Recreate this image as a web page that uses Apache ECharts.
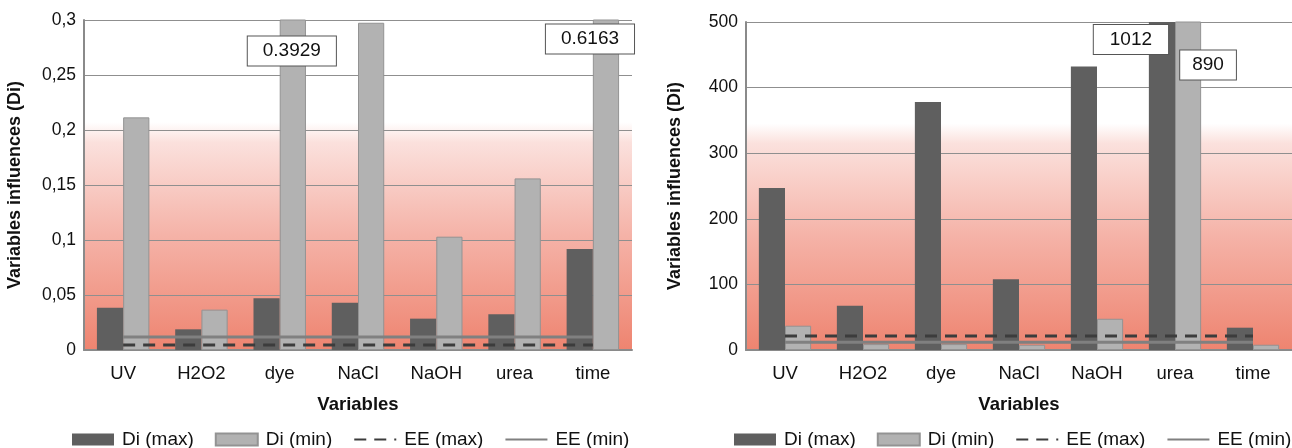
<!DOCTYPE html>
<html><head><meta charset="utf-8">
<script src="https://cdn.jsdelivr.net/npm/echarts@6/dist/echarts.min.js"></script>
<style>html,body{margin:0;padding:0;background:#fff}#c{width:1292px;height:448px}</style>
</head><body><div id="c"></div>
<script>
// ---------- data ----------
const categories = ['UV', 'H2O2', 'dye', 'NaCl', 'NaOH', 'urea', 'time'];
const seriesNames = ['Di (max)', 'Di (min)', 'EE (max)', 'EE (min)'];

const leftDiMax = [0.0385, 0.0188, 0.047, 0.043, 0.0285, 0.0325, 0.0918];
const leftDiMin = [0.2115, 0.0367, 0.3929, 0.2975, 0.103, 0.156, 0.6163];
const leftEEMax = [0.0045, 0.0045, 0.0045, 0.0045, 0.0045, 0.0045, 0.0045];
const leftEEMin = [0.0118, 0.0118, 0.0118, 0.0118, 0.0118, 0.0118, 0.0118];
const leftYTicks = ['0', '0,05', '0,1', '0,15', '0,2', '0,25', '0,3'];

const rightDiMax = [247, 67.5, 378, 108, 432, 1012, 34];
const rightDiMin = [37, 9, 9, 8, 47.6, 890, 8];
const rightEEMax = [21.3, 21.3, 21.3, 21.3, 21.3, 21.3, 21.3];
const rightEEMin = [11.7, 11.7, 11.7, 11.7, 11.7, 11.7, 11.7];
const rightYTicks = ['0', '100', '200', '300', '400', '500'];

// ---------- styles ----------
const FONT = '"Liberation Sans", Arial, sans-serif';
const DARK = '#5f5f5f', LIGHT = '#b2b2b2';
const AXIS = '#8a8a8a', GRID = '#8f8f8f';

// callout label placement for values beyond the axis range (style only)
const leftMaxOff = {};
const leftMinOff = {2: {offset: [-1, 17], pad: [5, 15]}, 6: {offset: [-16, 5], pad: [5, 15]}};
const rightMaxOff = {5: {offset: [-31, 3], pad: [5, 16]}};
const rightMinOff = {5: {offset: [20, 29], pad: [5, 12]}};

function withCallouts(values, offs) {
  return values.map((v, i) => {
    if (!offs[i]) return v;
    return {
      value: v,
      label: {
        show: true, position: 'insideTop', distance: 0, offset: offs[i].offset,
        formatter: p => String(p.value),
        color: '#111', fontSize: 19, fontFamily: FONT,
        backgroundColor: '#fff', borderColor: '#555', borderWidth: 1,
        padding: offs[i].pad, textBorderWidth: 0
      }
    };
  });
}

function bg() {
  return new echarts.graphic.LinearGradient(0, 0, 0, 1, [
    {offset: 0, color: '#ffffff'},
    {offset: 0.31, color: '#ffffff'},
    {offset: 0.37, color: '#fbe1dd'},
    {offset: 0.65, color: '#f5b3a8'},
    {offset: 1, color: '#ee8470'}
  ]);
}

function legend(left) {
  return {
    left: left, top: 430, width: 620, padding: 0,
    itemWidth: 42, itemHeight: 12, itemGap: 21,
    textStyle: {fontSize: 19, fontFamily: FONT, color: '#111', padding: [0, 0, 0, 3]},
    data: [
      {name: seriesNames[0], icon: 'rect'},
      {name: seriesNames[1], icon: 'rect'},
      {name: seriesNames[2], itemStyle: {opacity: 0}},
      {name: seriesNames[3], itemStyle: {opacity: 0}}
    ]
  };
}

function xAxis(idx) {
  return {
    type: 'category', gridIndex: idx, data: categories,
    axisLine: {lineStyle: {color: AXIS, width: 2}},
    axisTick: {show: false},
    axisLabel: {fontSize: 18.5, fontFamily: FONT, color: '#111', margin: 14},
    name: 'Variables', nameLocation: 'middle', nameGap: 45,
    nameTextStyle: {fontSize: 18.5, fontWeight: 'bold', fontFamily: FONT, color: '#111'}
  };
}

function yAxis(idx, max, interval, ticks, gap) {
  return {
    type: 'value', gridIndex: idx, min: 0, max: max, interval: interval,
    axisLine: {show: true, lineStyle: {color: AXIS, width: 2}},
    axisTick: {show: false},
    splitLine: {lineStyle: {color: GRID, width: 1}},
    axisLabel: {fontSize: 17.5, fontFamily: FONT, color: '#111', margin: 8,
      formatter: (v, i) => ticks[i]},
    name: 'Variables influences (Di)', nameLocation: 'middle', nameGap: gap,
    nameTextStyle: {fontSize: 18, fontWeight: 'bold', fontFamily: FONT, color: '#111'}
  };
}

function seriesFor(idx, diMax, diMin, eeMax, eeMin, offMax, offMin) {
  return [
    {name: seriesNames[0], type: 'bar', xAxisIndex: idx, yAxisIndex: idx,
     data: withCallouts(diMax, offMax), barCategoryGap: '33%', barGap: '0%',
     itemStyle: {color: DARK}},
    {name: seriesNames[1], type: 'bar', xAxisIndex: idx, yAxisIndex: idx,
     data: withCallouts(diMin, offMin), barCategoryGap: '33%', barGap: '0%',
     itemStyle: {color: LIGHT, borderColor: '#939393', borderWidth: 1}},
    {name: seriesNames[2], type: 'line', xAxisIndex: idx, yAxisIndex: idx,
     data: eeMax, symbol: 'none', z: 5,
     lineStyle: {color: '#3c3c3c', width: 3, type: [12, 8]},
     itemStyle: {color: '#3c3c3c'}},
    {name: seriesNames[3], type: 'line', xAxisIndex: idx, yAxisIndex: idx,
     data: eeMin, symbol: 'none', z: 5,
     lineStyle: {color: '#808080', width: 3},
     itemStyle: {color: '#808080'}}
  ];
}

const chart = echarts.init(document.getElementById('c'), null, {renderer: 'canvas'});
chart.setOption({
  animation: false,
  backgroundColor: '#fff',
  textStyle: {fontFamily: FONT},
  grid: [
    {left: 84, top: 20, width: 548, height: 330, show: true, backgroundColor: bg(), borderWidth: 0},
    {left: 746, top: 22, width: 549, height: 328, show: true, backgroundColor: bg(), borderWidth: 0}
  ],
  legend: [legend(72), legend(734)],
  xAxis: [xAxis(0), xAxis(1)],
  yAxis: [yAxis(0, 0.3, 0.05, leftYTicks, 60), yAxis(1, 500, 100, rightYTicks, 62)],
  series: [].concat(
    seriesFor(0, leftDiMax, leftDiMin, leftEEMax, leftEEMin, leftMaxOff, leftMinOff),
    seriesFor(1, rightDiMax, rightDiMin, rightEEMax, rightEEMin, rightMaxOff, rightMinOff)
  )
});
</script>
</body></html>
